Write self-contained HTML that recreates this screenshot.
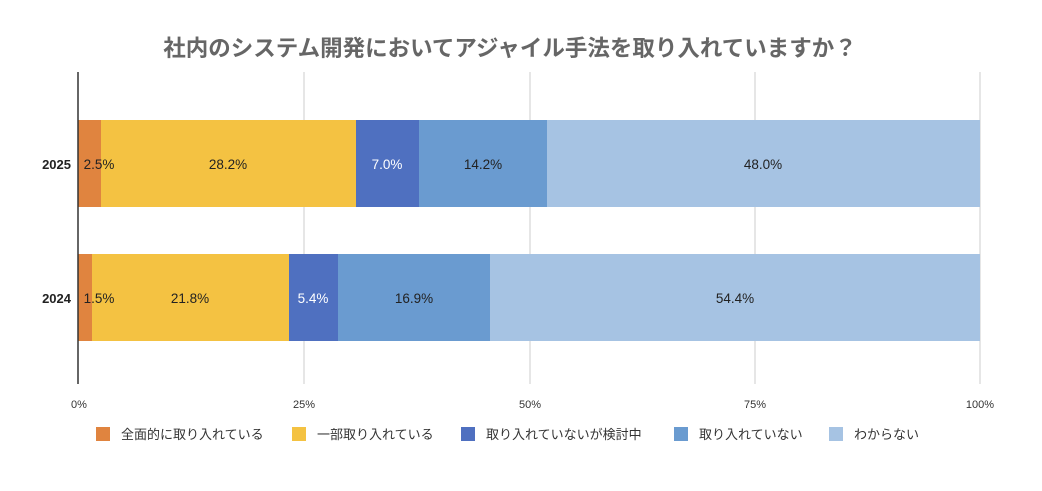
<!DOCTYPE html>
<html><head><meta charset="utf-8"><style>
body{margin:0;background:#fff;width:1042px;height:486px;overflow:hidden;font-family:"Liberation Sans","Noto Sans CJK JP",sans-serif}
</style></head><body>
<svg width="1042" height="486" xmlns="http://www.w3.org/2000/svg" font-family="Liberation Sans, Noto Sans CJK JP, sans-serif">
<text x="510" y="56" text-anchor="middle" font-size="22.5" font-weight="bold" fill="#666">社内のシステム開発においてアジャイル手法を取り入れていますか？</text>
<g stroke="#ddd" stroke-width="1.5">
<line x1="304" y1="72" x2="304" y2="384"/><line x1="530" y1="72" x2="530" y2="384"/><line x1="755" y1="72" x2="755" y2="384"/><line x1="980" y1="72" x2="980" y2="384"/>
</g>
<rect x="78" y="120" width="23" height="87" fill="#e0843f"/>
<rect x="101" y="120" width="255" height="87" fill="#f4c242"/>
<rect x="356" y="120" width="63" height="87" fill="#4f70c0"/>
<rect x="419" y="120" width="128" height="87" fill="#6a9bd0"/>
<rect x="547" y="120" width="433" height="87" fill="#a6c3e3"/>
<rect x="78" y="254" width="14" height="87" fill="#e0843f"/>
<rect x="92" y="254" width="197" height="87" fill="#f4c242"/>
<rect x="289" y="254" width="49" height="87" fill="#4f70c0"/>
<rect x="338" y="254" width="152" height="87" fill="#6a9bd0"/>
<rect x="490" y="254" width="490" height="87" fill="#a6c3e3"/>
<line x1="78" y1="72" x2="78" y2="384" stroke="#333" stroke-width="1.5"/>
<g font-size="13.5" fill="#222" text-anchor="middle">
<text x="99" y="169">2.5%</text><text x="228" y="169">28.2%</text><text x="387" y="169" fill="#fff">7.0%</text><text x="483" y="169">14.2%</text><text x="763" y="169">48.0%</text>
<text x="99" y="303">1.5%</text><text x="190" y="303">21.8%</text><text x="313" y="303" fill="#fff">5.4%</text><text x="414" y="303">16.9%</text><text x="735" y="303">54.4%</text>
</g>
<g font-size="13" font-weight="bold" fill="#222" text-anchor="end">
<text x="71" y="169">2025</text><text x="71" y="303">2024</text>
</g>
<g font-size="11" fill="#333" text-anchor="middle">
<text x="79" y="408">0%</text><text x="304" y="408">25%</text><text x="530" y="408">50%</text><text x="755" y="408">75%</text><text x="980" y="408">100%</text>
</g>
<g font-size="13" fill="#333">
<rect x="96" y="427" width="14" height="14" fill="#e0843f"/><text x="121" y="439">全面的に取り入れている</text>
<rect x="292" y="427" width="14" height="14" fill="#f4c242"/><text x="317" y="439">一部取り入れている</text>
<rect x="461" y="427" width="14" height="14" fill="#4f70c0"/><text x="486" y="439">取り入れていないが検討中</text>
<rect x="674" y="427" width="14" height="14" fill="#6a9bd0"/><text x="699" y="439">取り入れていない</text>
<rect x="829" y="427" width="14" height="14" fill="#a6c3e3"/><text x="854" y="439">わからない</text>
</g>
</svg>
</body></html>
